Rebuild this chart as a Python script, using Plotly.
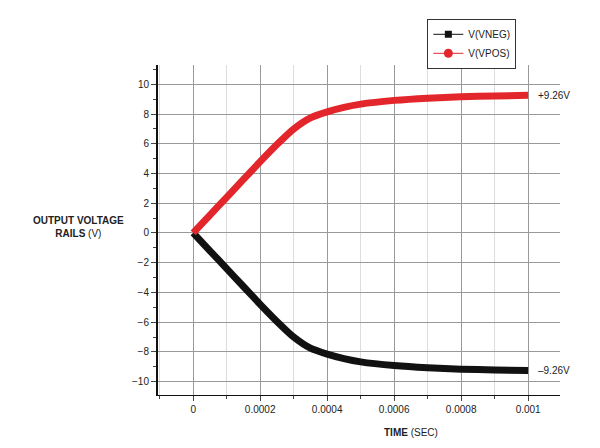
import plotly.graph_objects as go

time_s = [0, 0.00005, 0.0001, 0.00015, 0.0002, 0.00025, 0.0003, 0.00035, 0.0004,
          0.00045, 0.0005, 0.0006, 0.0007, 0.0008, 0.0009, 0.001]
vpos = [0, 1.2, 2.4, 3.6, 4.8, 5.95, 7.0, 7.75, 8.15, 8.45, 8.67, 8.92, 9.07, 9.16, 9.22, 9.26]
vneg = [-v for v in vpos]

x_ticks = [0, 0.0002, 0.0004, 0.0006, 0.0008, 0.001]
x_labels = ["0", "0.0002", "0.0004", "0.0006", "0.0008", "0.001"]
y_ticks = [-10, -8, -6, -4, -2, 0, 2, 4, 6, 8, 10]

fig = go.Figure()
fig.add_trace(go.Scatter(x=time_s, y=vneg, showlegend=False, mode="lines",
                         line=dict(color="#111111", width=7, shape="spline", smoothing=0.6)))
fig.add_trace(go.Scatter(x=time_s, y=vpos, showlegend=False, mode="lines",
                         line=dict(color="#e3262b", width=7, shape="spline", smoothing=0.6)))
# legend-only entries
fig.add_trace(go.Scatter(x=[None], y=[None], name="V(VNEG)", mode="lines+markers",
                         line=dict(color="#111111", width=1),
                         marker=dict(symbol="square", size=7, color="#111111")))
fig.add_trace(go.Scatter(x=[None], y=[None], name="V(VPOS)", mode="lines+markers",
                         line=dict(color="#e3262b", width=1),
                         marker=dict(symbol="circle", size=9, color="#e3262b")))

fig.update_layout(
    width=600, height=448, paper_bgcolor="white", plot_bgcolor="white",
    margin=dict(l=150, r=48, t=57, b=61, autoexpand=False),
    font=dict(family="Liberation Sans, Arial", size=10, color="#222"),
    showlegend=True,
    legend=dict(x=0.67, y=1.14, xanchor="left", yanchor="top",
                bordercolor="#333", borderwidth=1, font=dict(size=10),
                itemwidth=30, tracegroupgap=0),
    xaxis=dict(range=[-0.000105, 0.001095], tickvals=x_ticks, ticktext=x_labels,
               showgrid=True, gridcolor="#999", gridwidth=1, zeroline=False,
               minor=dict(dtick=0.0001, showgrid=True, gridcolor="#ddd",
                          ticks="outside", ticklen=3),
               ticks="outside", ticklen=5, showline=True, linecolor="#111",
               tickfont=dict(size=10)),
    yaxis=dict(range=[-10.9, 11.3], tickvals=y_ticks, showgrid=True,
               gridcolor="#999", zeroline=False,
               minor=dict(dtick=1, ticks="outside", ticklen=3, showgrid=False),
               ticks="outside", ticklen=5, showline=True, linecolor="#111",
               linewidth=2, tickfont=dict(size=10)),
    annotations=[
        dict(x=0.001, y=9.26, text="+9.26V", showarrow=False, xanchor="left",
             xshift=8, font=dict(size=10)),
        dict(x=0.001, y=-9.26, text="\u20139.26V", showarrow=False, xanchor="left",
             xshift=8, font=dict(size=10)),
        dict(xref="paper", yref="y", x=-0.08, y=0.4, xanchor="right",
             text="<b>OUTPUT VOLTAGE<br>RAILS</b> (V)", showarrow=False,
             align="center", font=dict(size=10)),
        dict(xref="x", yref="paper", x=0.00065, y=-0.09, yanchor="top",
             text="<b>TIME</b> (SEC)", showarrow=False, font=dict(size=10)),
    ],
)
fig.write_html("out.html")
